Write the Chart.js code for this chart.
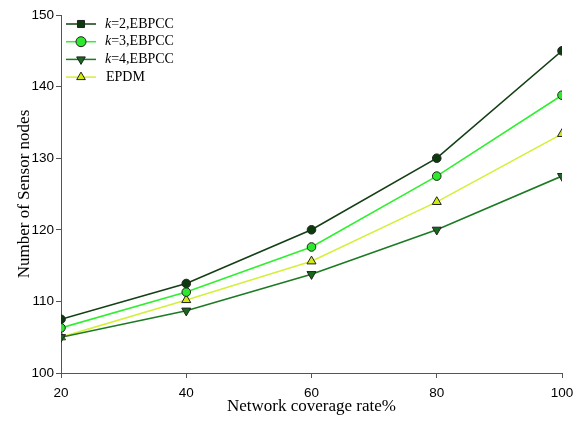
<!DOCTYPE html>
<html>
<head>
<meta charset="utf-8">
<script src="https://cdn.jsdelivr.net/npm/chart.js@4"></script>
<style>
  html, body { margin: 0; padding: 0; background: #fff; }
  #wrap { width: 587px; height: 423px; }
</style>
</head>
<body>
<div id="wrap"><canvas id="chart" width="587" height="423"></canvas></div>
<script>
// ── Data ──────────────────────────────────────
const coverage = [20, 40, 60, 80, 100];
const k2Values = [107.5, 112.5, 120.0, 130.0, 145.0];
const k3Values = [106.3, 111.3, 117.6, 127.5, 138.8];
const k4Values = [105.0, 108.7, 113.8, 120.0, 127.5];
const epdmValues = [105.0, 110.2, 115.6, 123.9, 133.4];
const seriesNames = ['k=2,EBPCC', 'k=3,EBPCC', 'k=4,EBPCC', 'EPDM'];
const xTicks = [20, 40, 60, 80, 100];
const yTicks = [100, 110, 120, 130, 140, 150];

const toPoints = vals => coverage.map((x, i) => ({ x, y: vals[i] }));

// legend glyph per series (k=2 uses a square in the key)
const legendStyles = [
  { style: 'rect', rot: 0 },
  { style: 'circle', rot: 0 },
  { style: 'triangle', rot: 180 },
  { style: 'triangle', rot: 0 }
];

// ── Custom legend (italic k) ──────────────────
const legendPlugin = {
  id: 'paperLegend',
  afterDraw(chart) {
    const ctx = chart.ctx;
    const x0 = 66, y0 = 24, rowH = 17.7;
    chart.data.datasets.forEach((ds, i) => {
      const y = y0 + i * rowH;
      ctx.save();
      ctx.strokeStyle = ds.borderColor;
      ctx.lineWidth = 1.5;
      ctx.beginPath();
      ctx.moveTo(x0, y);
      ctx.lineTo(x0 + 30, y);
      ctx.stroke();
      ctx.fillStyle = ds.pointBackgroundColor;
      ctx.strokeStyle = '#222';
      ctx.lineWidth = 1;
      Chart.helpers.drawPoint(ctx, {
        pointStyle: legendStyles[i].style, rotation: legendStyles[i].rot, radius: 5, borderWidth: 1
      }, x0 + 15, y);
      ctx.fillStyle = '#000';
      ctx.textBaseline = 'middle';
      ctx.textAlign = 'left';
      let tx = x0 + 39;
      const name = seriesNames[i];
      if (name.startsWith('k')) {
        ctx.font = 'italic 14px "Liberation Serif"';
        ctx.fillText('k', tx, y);
        tx += ctx.measureText('k').width;
        ctx.font = '14px "Liberation Serif"';
        ctx.fillText(name.slice(1), tx, y);
      } else {
        ctx.font = '14px "Liberation Serif"';
        ctx.fillText(name, tx + 1, y);
      }
      ctx.restore();
    });
  }
};

const ds = (label, vals, line, fill, style, rot, r) => ({
  label,
  data: toPoints(vals),
  borderColor: line,
  borderWidth: 1.6,
  pointStyle: style,
  pointRotation: rot,
  pointRadius: r,
  pointBackgroundColor: fill,
  pointBorderColor: '#222',
  pointBorderWidth: 1,
  tension: 0
});

new Chart(document.getElementById('chart').getContext('2d'), {
  type: 'line',
  data: {
    datasets: [
      ds(seriesNames[0], k2Values, '#123f14', '#0b3a0d', 'circle', 0, 4.3),
      ds(seriesNames[1], k3Values, '#2ef02e', '#2ee82e', 'circle', 0, 4.3),
      ds(seriesNames[2], k4Values, '#1c7a22', '#176a1b', 'triangle', 180, 5.2),
      ds(seriesNames[3], epdmValues, '#d4f03a', '#d2ea10', 'triangle', 0, 5.2)
    ]
  },
  options: {
    responsive: false,
    animation: false,
    layout: { padding: { top: 15, right: 25, left: 0, bottom: 0 } },
    plugins: { legend: { display: false }, tooltip: { enabled: false } },
    scales: {
      x: {
        type: 'linear',
        min: 20, max: 100,
        afterFit: s => { s.height = 50; },
        afterBuildTicks: s => { s.ticks = xTicks.map(v => ({ value: v })); },
        border: { color: '#555', width: 1 },
        grid: { drawOnChartArea: false, drawTicks: true, tickLength: 5, color: '#555' },
        ticks: { color: '#000', padding: 7, maxRotation: 0, font: { family: 'Liberation Sans', size: 13.5 } },
        title: {
          display: true, text: 'Network coverage rate%', color: '#000',
          font: { family: 'Liberation Serif', size: 17 }, padding: { top: 0, bottom: 6 }
        }
      },
      y: {
        min: 100, max: 150,
        afterFit: s => { s.width = 61; },
        afterBuildTicks: s => { s.ticks = yTicks.map(v => ({ value: v })); },
        border: { color: '#555', width: 1 },
        grid: { drawOnChartArea: false, drawTicks: true, tickLength: 5, color: '#555' },
        ticks: { color: '#000', padding: 2, font: { family: 'Liberation Sans', size: 13.5 } },
        title: {
          display: true, text: 'Number of Sensor nodes', color: '#000',
          font: { family: 'Liberation Serif', size: 17 }, padding: { top: 14, bottom: 0 }
        }
      }
    }
  },
  plugins: [legendPlugin]
});
</script>
</body>
</html>
